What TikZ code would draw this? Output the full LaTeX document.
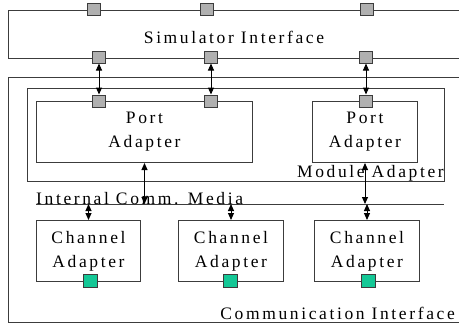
\documentclass[tikz,border=0pt]{standalone}
\usepackage{fontspec}
\setmainfont{Liberation Serif}
\newfontfamily\spacedfont[LetterSpace=15]{Liberation Serif}
\usepackage{tikz}
\usetikzlibrary{positioning, arrows.meta}
\definecolor{ciGray}{RGB}{60, 60, 60}
\definecolor{ciPort}{RGB}{176, 176, 176}
\definecolor{ciGreen}{RGB}{20, 200, 150}
\tikzset{
    base/.style={
        font=\spacedfont\fontsize{17.5}{24}\selectfont,
        align=center,
        text=black
    },
    frame/.style={
        draw=ciGray,
        line width=1pt
    },
    adapter/.style={
        base,
        frame,
        rectangle,
        fill=white,
        anchor=north west,
        inner sep=0pt,
        minimum height=61
    },
    port/.style={
        frame,
        rectangle,
        fill=ciPort,
        minimum width=13,
        minimum height=12,
        inner sep=0pt
    },
    chport/.style={
        port,
        fill=ciGreen,
        minimum width=14,
        minimum height=13
    },
    link/.style={
        {Triangle[length=7pt, width=6pt]}-{Triangle[length=7pt, width=6pt]},
        line width=1pt,
        color=black
    },
    label/.style={
        base,
        inner sep=1pt
    }
}
\begin{document}
\begin{tikzpicture}[x=1pt, y=-1pt]
    \useasboundingbox (0,0) rectangle (459,324);

    % Simulator Interface
    \draw[frame] (459,10) -- (8,10) -- (8,58) -- (459,58);
    \node[label] (sim) at (234,37) {Simulator Interface};
    \foreach \n/\x in {1/94, 2/207, 3/367} \node[port] (st\n) at (\x,9) {};
    \foreach \n/\x in {1/99, 2/211, 3/366} \node[port] (sb\n) at (\x,57) {};

    % Communication Interface
    \draw[frame] (459,77) -- (8,77) -- (8,322) -- (459,322);
    \node[label, anchor=south east] (comm) at (456,321) {Communication Interface};

    % Module Adapter
    \node[frame, anchor=north west, minimum width=417, minimum height=93, inner sep=0pt] (modad) at (27,88) {};
    \node[label, anchor=south east] (modlabel) at (modad.south east) {Module Adapter};
    \node[adapter, minimum width=216] (pa1) at (36,101) {Port\\Adapter};
    \node[adapter, minimum width=105] (pa2) at (312,101) {Port\\Adapter};
    \foreach \n/\x in {1/99, 2/211, 3/366} \node[port] (mp\n) at (\x,101) {};
    \foreach \n in {1,2,3} \draw[link] (sb\n.south) -- (mp\n.north);

    % Internal Comm. Media
    \coordinate (media west) at (36,204);
    \coordinate (media east) at (444,204);
    \draw[frame] (media west) -- (media east);
    \node[label, anchor=south west, inner sep=0pt] (medialabel) at ([yshift=-1pt]media west) {Internal Comm. Media};
    \draw[link] (pa1.south) -- (pa1.south |- media west);
    \draw[link] (pa2.south) -- (pa2.south |- media west);

    % Channel Adapters
    \node[adapter, minimum width=104] (ca1) at (36,220) {Channel\\Adapter};
    \node[adapter, minimum width=105] (ca2) at (178,220) {Channel\\Adapter};
    \node[adapter, minimum width=105] (ca3) at (314,220) {Channel\\Adapter};
    \foreach \n/\x in {1/90, 2/230, 3/368} \node[chport] (cp\n) at (\x,281) {};
    \foreach \n in {1,2,3} \draw[link] (ca\n.north |- media west) -- (ca\n.north);
\end{tikzpicture}
\end{document}
